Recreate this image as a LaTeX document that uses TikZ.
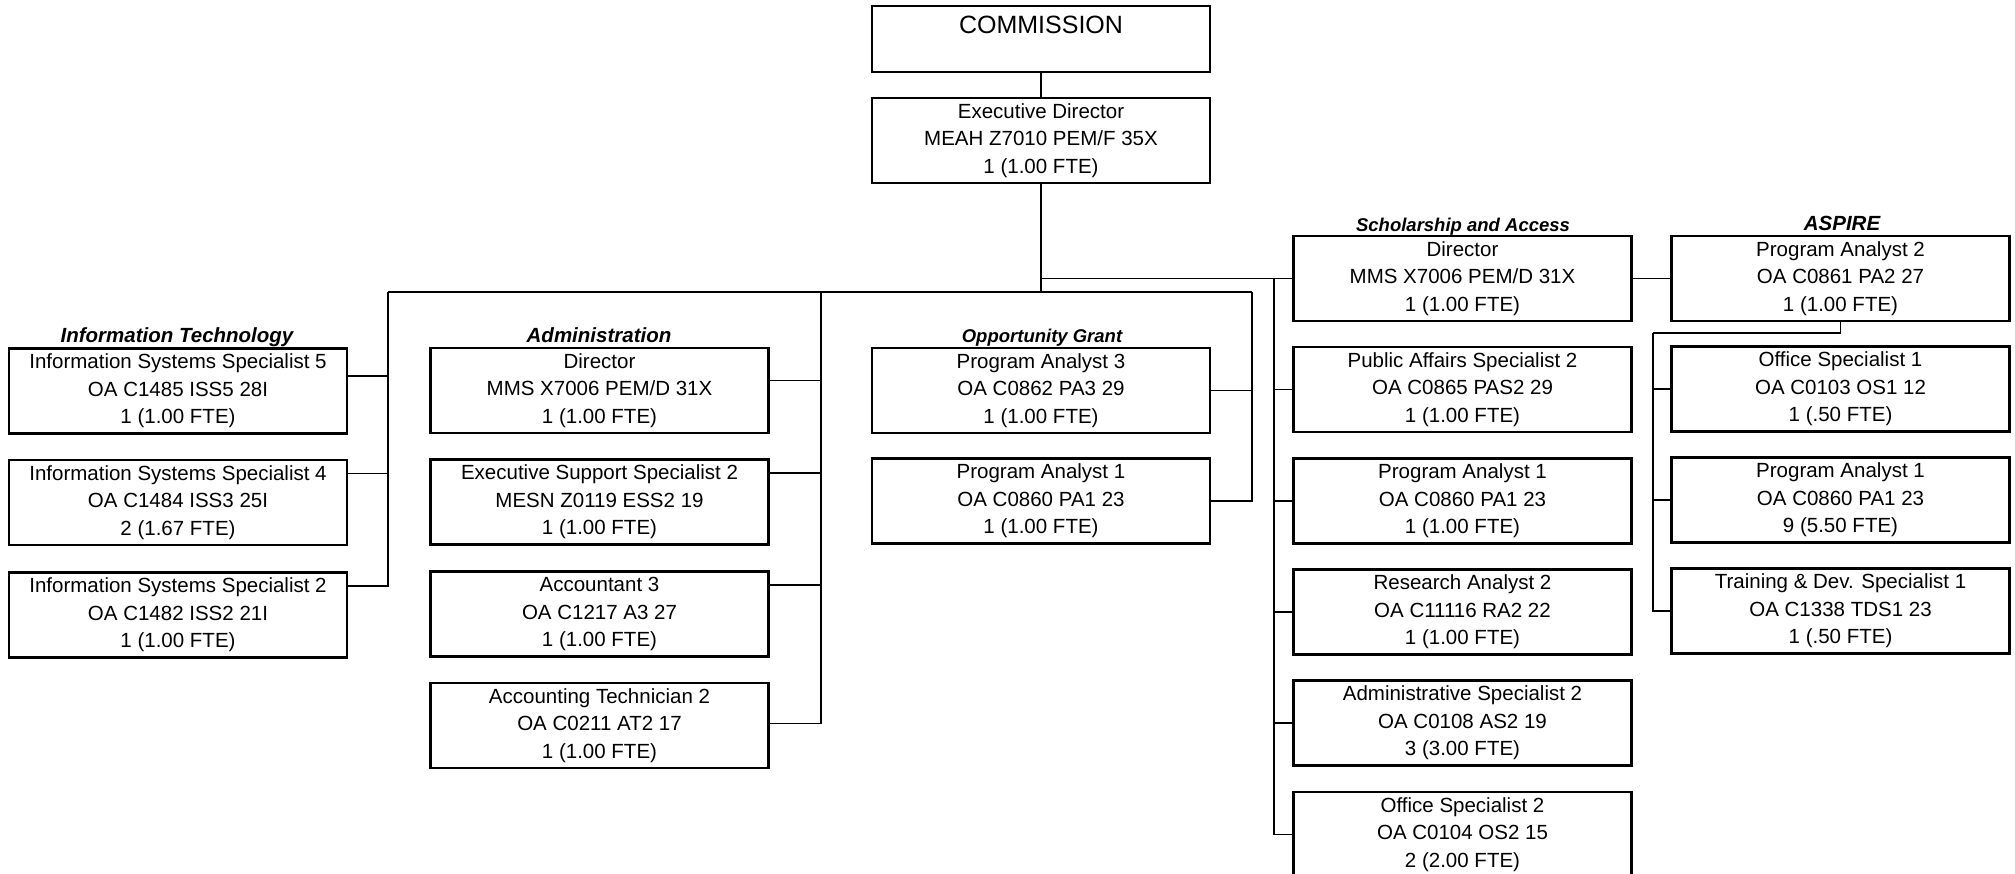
\documentclass[tikz,border=0pt]{standalone}
\usepackage{fontspec}
\setmainfont{Liberation Sans}
\usetikzlibrary{positioning}
\tikzset{
posbox/.style={draw, line width=2.6pt, minimum width=338pt, minimum height=85pt, inner sep=0pt, align=center, font=\fontsize{20.5}{27.5}\selectfont},
topbox/.style={posbox, minimum height=0pt, text height=28pt, text depth=38pt, font=\fontsize{25}{30}\selectfont},
unitlabel/.style={anchor=base, font=\fontsize{20.5}{24}\selectfont\bfseries\itshape},
smalllabel/.style={unitlabel, font=\fontsize{18.5}{22}\selectfont\bfseries\itshape},
wire/.style={line width=1.3pt}
}
\begin{document}
\begin{tikzpicture}[x=1pt, y=-1pt]
\useasboundingbox[fill=white] (0,0) rectangle (2015,874);
% top
\node[topbox] (comm) at (1041,39) {COMMISSION};
\node[posbox] (exec) at (1041,140.5) {Executive Director\\MEAH Z7010 PEM/F 35X\\1 (1.00 FTE)};
% Information Technology
\node[unitlabel] (itlbl) at (177,342) {Information Technology};
\node[posbox] (it1) at (178,391) {Information Systems Specialist 5\\OA C1485 ISS5 28I\\1 (1.00 FTE)};
\node[posbox] (it2) at (178,502.5) {Information Systems Specialist 4\\OA C1484 ISS3 25I\\2 (1.67 FTE)};
\node[posbox] (it3) at (178,615) {Information Systems Specialist 2\\OA C1482 ISS2 21I\\1 (1.00 FTE)};
% Administration
\node[unitlabel] (adlbl) at (599,342) {Administration};
\node[posbox] (ad1) at (599.5,390.5) {Director\\MMS X7006 PEM/D 31X\\1 (1.00 FTE)};
\node[posbox] (ad2) at (599.5,502) {Executive Support Specialist 2\\MESN Z0119 ESS2 19\\1 (1.00 FTE)};
\node[posbox] (ad3) at (599.5,614) {Accountant 3\\OA C1217 A3 27\\1 (1.00 FTE)};
\node[posbox] (ad4) at (599.5,725.5) {Accounting Technician 2\\OA C0211 AT2 17\\1 (1.00 FTE)};
% Opportunity Grant
\node[smalllabel] (oglbl) at (1042,342) {Opportunity Grant};
\node[posbox] (og1) at (1041,390.5) {Program Analyst 3\\OA C0862 PA3 29\\1 (1.00 FTE)};
\node[posbox] (og2) at (1041,501) {Program Analyst 1\\OA C0860 PA1 23\\1 (1.00 FTE)};
% Scholarship and Access
\node[smalllabel] (salbl) at (1463,232) {Scholarship and Access};
\node[posbox] (sa1) at (1462.5,278.5) {Director\\MMS X7006 PEM/D 31X\\1 (1.00 FTE)};
\node[posbox] (sa2) at (1462.5,389.5) {Public Affairs Specialist 2\\OA C0865 PAS2 29\\1 (1.00 FTE)};
\node[posbox] (sa3) at (1462.5,501) {Program Analyst 1\\OA C0860 PA1 23\\1 (1.00 FTE)};
\node[posbox] (sa4) at (1462.5,612) {Research Analyst 2\\OA C11116 RA2 22\\1 (1.00 FTE)};
\node[posbox] (sa5) at (1462.5,723) {Administrative Specialist 2\\OA C0108 AS2 19\\3 (3.00 FTE)};
\node[posbox] (sa6) at (1462.5,834.5) {Office Specialist 2\\OA C0104 OS2 15\\2 (2.00 FTE)};
% ASPIRE
\node[unitlabel] (aslbl) at (1842,231) {ASPIRE};
\node[posbox] (as1) at (1840.5,278.5) {Program Analyst 2\\OA C0861 PA2 27\\1 (1.00 FTE)};
\node[posbox] (as2) at (1840.5,389) {Office Specialist 1\\OA C0103 OS1 12\\1 (.50 FTE)};
\node[posbox] (as3) at (1840.5,500) {Program Analyst 1\\OA C0860 PA1 23\\9 (5.50 FTE)};
\node[posbox] (as4) at (1840.5,611) {Training \& Dev. Specialist 1\\OA C1338 TDS1 23\\1 (.50 FTE)};
% lines
\coordinate (itbus) at (388,292);
\coordinate (adbus) at (821,292);
\coordinate (ogbus) at (1252,292);
\coordinate (sabus) at (1274,278.5);
\coordinate (asbus) at (1653,333);
\draw[wire] (comm) -- (exec);
\draw[wire] (exec.south) -- (exec.south |- itbus);
\draw[wire] (itbus) -- (ogbus);
\draw[wire] (exec.south) |- (sa1.west);
\draw[wire] (sa1) -- (as1);
\foreach \n/\s in {it1/15,it2/29,it3/29}
  \draw[wire] ([yshift=\s pt]\n.east) -| (itbus);
\foreach \n/\s in {ad1/10,ad2/29,ad3/29,ad4/2}
  \draw[wire] ([yshift=\s pt]\n.east) -| (adbus);
\foreach \n in {og1,og2}
  \draw[wire] (\n.east) -| (ogbus);
\foreach \n in {sa2,sa3,sa4,sa5,sa6}
  \draw[wire] (\n.west) -| (sabus);
\draw[wire] (as1.south) |- (asbus);
\foreach \n in {as2,as3,as4}
  \draw[wire] (\n.west) -| (asbus);
\end{tikzpicture}
\end{document}
